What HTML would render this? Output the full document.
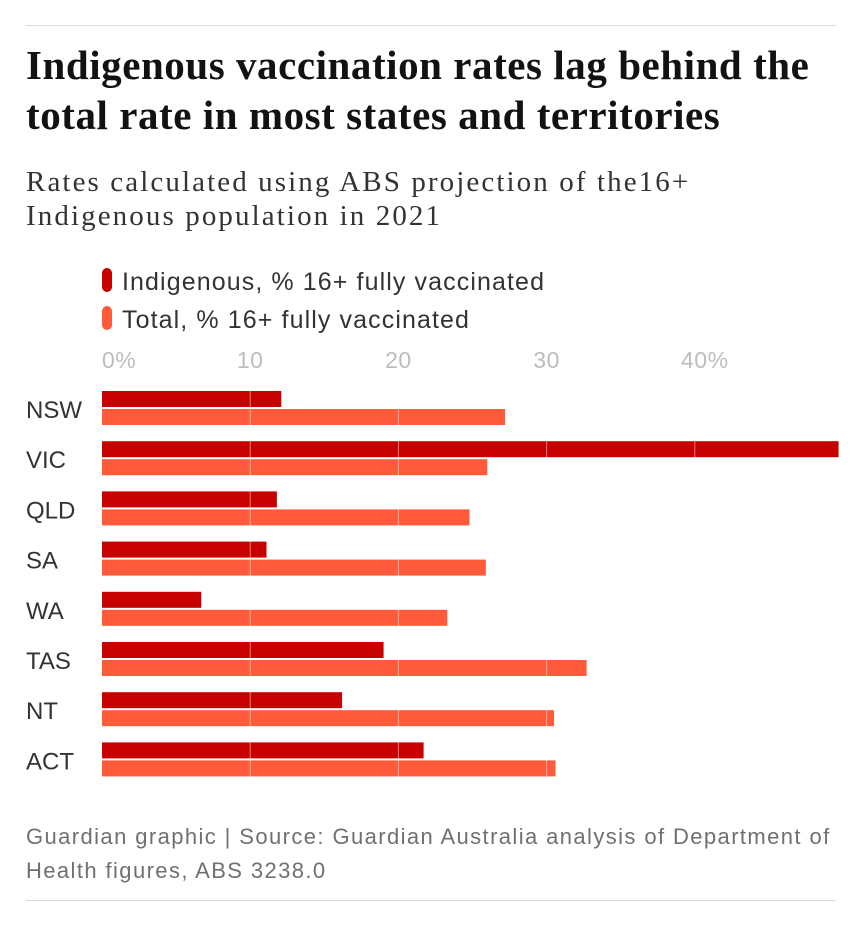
<!DOCTYPE html>
<html><head><meta charset="utf-8"><style>
body{margin:0;background:#fff;width:861px;height:926px;overflow:hidden;font-family:"Liberation Sans",sans-serif}
.rule{position:absolute;left:26px;width:810px;height:1px;background:#dcdcdc}
h1{position:absolute;left:26px;top:40px;margin:0;font-family:"Liberation Serif",serif;font-weight:bold;font-size:41px;line-height:50px;color:#121212;letter-spacing:0.55px;white-space:nowrap}
.sub{position:absolute;left:26px;top:165px;font-family:"Liberation Serif",serif;font-size:29px;line-height:34px;color:#333;letter-spacing:2.1px;white-space:nowrap}
.foot{position:absolute;left:26px;top:820px;font-size:22px;line-height:34px;color:#707070;letter-spacing:1.4px;white-space:nowrap}
</style></head><body>
<div class="rule" style="top:25px"></div>
<h1>Indigenous vaccination rates lag behind the<br>total rate in most states and territories</h1>
<div class="sub">Rates calculated using ABS projection of the16+<br>Indigenous population in 2021</div>
<svg id="chart" width="861" height="926" style="position:absolute;left:0;top:0"></svg>
<div class="foot">Guardian graphic | Source: Guardian Australia analysis of Department of<br>Health figures, ABS 3238.0</div>
<div class="rule" style="top:900px"></div>
<script>
const categories=["NSW","VIC","QLD","SA","WA","TAS","NT","ACT"];
const indigenous=[12.1,49.7,11.8,11.1,6.7,19.0,16.2,21.7];
const total=[27.2,26.0,24.8,25.9,23.3,32.7,30.5,30.6];
const ticks=[0,10,20,30,40];
const tickLabels=["0%","10","20","30","40%"];
const seriesNames=["Indigenous, % 16+ fully vaccinated","Total, % 16+ fully vaccinated"];
const colors=["#c70000","#ff5b3a"];
const svg=document.getElementById('chart');
const NS="http://www.w3.org/2000/svg";
const x0=102,scale=14.82;
const x=v=>x0+v*scale;
const rowY=i=>391+i*50.2;
function mk(tag,attrs,parent){const e=document.createElementNS(NS,tag);for(const k in attrs)e.setAttribute(k,attrs[k]);(parent||svg).appendChild(e);return e;}
seriesNames.forEach((n,i)=>{
  const g=mk('g',{});
  
  
  mk('rect',{x:102,y:268+i*38,width:10,height:24,rx:5,fill:colors[i]},g);
  const t=mk('text',{x:122,y:290+i*38,'font-size':25,'letter-spacing':1.1,fill:'#333'},g);t.textContent=n;
});
ticks.forEach((v,i)=>{
  const t=mk('text',{x:v===0?x(v):x(v)+(i===ticks.length-1?10:0),y:368,'font-size':23,fill:'#bdbdbd','text-anchor':v===0?'start':'middle','letter-spacing':0.5});
  
  
  t.textContent=tickLabels[i];
});
categories.forEach((c,i)=>{
  const y=rowY(i);
  const t=mk('text',{x:26,y:y+27,'font-size':24,fill:'#333'});
  
  
  t.textContent=c;
  const b1=mk('rect',{x:x0,y:y,width:x(indigenous[i])-x0,height:16,fill:colors[0]});
  
  
  const b2=mk('rect',{x:x0,y:y+18,width:x(total[i])-x0,height:16,fill:colors[1]});
  
  
});
ticks.slice(1).forEach(v=>{
  const l=mk('line',{x1:x(v),x2:x(v),y1:385,y2:780,stroke:'#fff','stroke-opacity':0.5,'stroke-width':1});
  
  
});
</script>
</body></html>
